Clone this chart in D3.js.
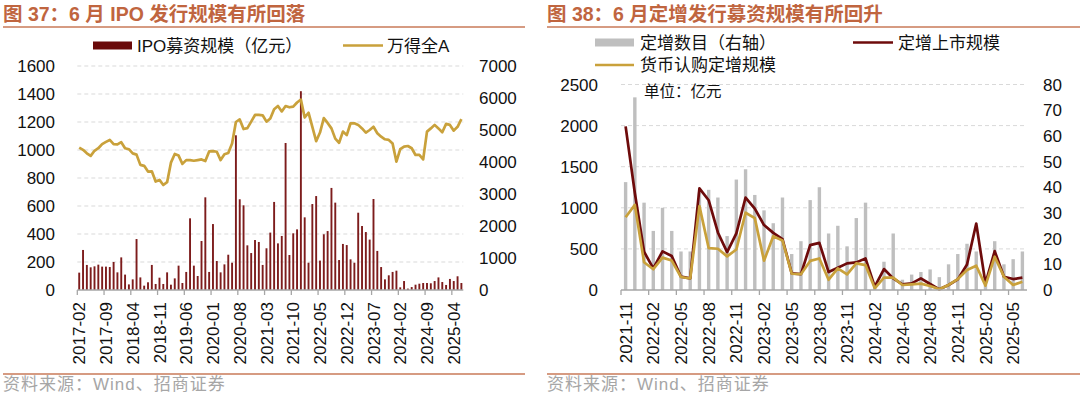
<!DOCTYPE html>
<html><head><meta charset="utf-8">
<script src="https://cdn.jsdelivr.net/npm/d3@7"></script>
<style>
body{margin:0;background:#fff;}
svg{display:block;}
text{font-family:"Liberation Sans",Arial,"Noto Sans CJK SC",sans-serif;}
</style></head>
<body><svg id="c" width="1080" height="394"></svg>
<script>
// ---------------- Data: chart 37 (IPO) ----------------
const ipoStart = "2017-02", ipoEnd = "2025-06";
const ipoTickLabels = ["2017-02","2017-09","2018-04","2018-11","2019-06","2020-01","2020-08","2021-03","2021-10","2022-05","2022-12","2023-07","2024-02","2024-09","2025-04"];
const ipoAmount = [124,286,179,162,169,181,167,167,164,200,126,233,110,40,76,364,90,31,55,179,
  43,88,43,126,38,83,174,50,129,512,174,100,350,662,129,471,207,126,183,252,
  195,1105,648,605,319,264,357,343,179,298,410,629,333,386,1050,250,405,433,1420,519,
  195,614,671,210,398,421,729,624,214,329,321,219,195,552,457,414,360,650,279,164,
  76,105,129,138,19,64,10,21,38,45,50,50,48,64,90,57,36,79,64,98,50];
const windA = [4450,4380,4270,4190,4350,4430,4560,4630,4690,4560,4550,4620,4430,4400,4270,4230,3910,3880,3700,3710,
  3390,3440,3280,3370,3980,4250,4200,3940,4060,4060,4040,4060,4080,4030,4330,4340,4320,4060,4240,4280,
  4580,5250,5330,5030,5060,5260,5470,5470,5460,5260,5360,5650,5750,5580,5750,5710,5730,5860,5950,5390,
  5540,5100,4650,4920,5370,5220,5050,4730,4600,4950,4840,5210,5210,5160,5050,4920,5000,5100,4900,4790,
  4710,4690,4580,4010,4400,4480,4500,4430,4220,4220,4080,4950,5050,5160,5050,4930,5190,5160,4980,5100,5340];
const ipoLeftTicks = [0,200,400,600,800,1000,1200,1400,1600];
const ipoRightTicks = [0,1000,2000,3000,4000,5000,6000,7000];

// ---------------- Data: chart 38 (定增) ----------------
const dzStart = "2021-11", dzEnd = "2025-06";
const dzTickLabels = ["2021-11","2022-02","2022-05","2022-08","2022-11","2023-02","2023-05","2023-08","2023-11","2024-02","2024-05","2024-08","2024-11","2025-02","2025-05"];
const dzCount = [42,75,34,23,32,23,15,15,38,39,36,21,43,47,37,31,26,36,14,19,35,40,
  22,25,17,28,34,2,11,22,4,6,7,8,5,10,14,18,15,2,19,10,12,15];
const dzListed = [1990,1180,465,263,470,413,162,142,1236,1092,700,460,688,1125,991,790,695,620,202,194,546,574,
  218,271,324,336,384,40,255,142,69,81,142,73,8,61,129,311,809,81,473,162,133,150];
const dzCash = [885,1035,338,253,394,358,158,140,1020,510,502,409,493,940,874,356,655,603,198,192,354,384,
  125,263,190,324,303,20,150,150,61,69,77,49,8,61,133,243,295,53,405,162,61,101];
const dzLeftTicks = [0,500,1000,1500,2000,2500];
const dzRightTicks = [0,10,20,30,40,50,60,70,80];

// ---------------- Helpers ----------------
const svg = d3.select("#c");
svg.append("rect").attr("width",1080).attr("height",394).attr("fill","#fff");
const fmt = d3.timeFormat("%Y-%m"), parse = d3.timeParse("%Y-%m");
function months(a,b){ return d3.timeMonth.range(parse(a), d3.timeMonth.offset(parse(b),1)).map(fmt); }

const TITLE_COL = "#c0653f", RULE_COL = "#c97a58", AX_COL = "#a6a6a6", GRID_COL = "#d9d9d9";
const GOLD = "#c9a13b";

function frame(x0, x1, title){
  svg.append("text").attr("x",x0+3).attr("y",21).attr("font-size",19.5).attr("font-weight","bold")
    .attr("fill",TITLE_COL).text(title);
  svg.append("line").attr("x1",x0+3).attr("x2",x1).attr("y1",27).attr("y2",27)
    .attr("stroke",RULE_COL).attr("stroke-width",1.6);
  svg.append("line").attr("x1",x0+3).attr("x2",x1).attr("y1",374).attr("y2",374)
    .attr("stroke",RULE_COL).attr("stroke-width",1.6);
  svg.append("text").attr("x",x0+3).attr("y",390).attr("font-size",17).attr("letter-spacing",1)
    .attr("fill","#a6a6a6").text("资料来源：Wind、招商证券");
}

function panel(o){
  const cats = months(o.start, o.end);
  const x = d3.scaleBand().domain(cats).range(o.xr).padding(0);
  const yL = d3.scaleLinear().domain(o.lDom).range(o.yr);
  const yR = d3.scaleLinear().domain(o.rDom).range(o.yr);
  const g = svg.append("g");
  g.selectAll(null).data(o.lTicks.filter(d=>d>0)).join("line")
    .attr("x1",o.xr[0]).attr("x2",o.xr[1]).attr("y1",d=>yL(d)).attr("y2",d=>yL(d))
    .attr("stroke",GRID_COL).attr("stroke-dasharray","4,3").attr("stroke-width",1);
  g.selectAll(null).data(o.lTicks).join("text")
    .attr("x",o.lLabX).attr("y",d=>yL(d)).attr("dy","0.36em").attr("text-anchor","end")
    .attr("font-size",17).attr("fill","#111").text(d=>d);
  g.selectAll(null).data(o.rTicks).join("text")
    .attr("x",o.rLabX).attr("y",d=>yR(d)).attr("dy","0.36em").attr("text-anchor","start")
    .attr("font-size",17).attr("fill","#111").text(d=>d);
  return {cats,x,yL,yR,g};
}

function xAxis(p, o){
  const {x,g} = p;
  const y0 = o.yr[0];
  g.append("line").attr("x1",o.xr[0]).attr("x2",o.xr[1]).attr("y1",y0).attr("y2",y0)
    .attr("stroke",AX_COL).attr("stroke-width",1.3);
  g.selectAll(null).data(o.tickLabels).join("line")
    .attr("x1",d=>x(d)).attr("x2",d=>x(d)).attr("y1",y0).attr("y2",y0+5)
    .attr("stroke",AX_COL).attr("stroke-width",1.3);
  g.selectAll(null).data(o.tickLabels).join("text")
    .attr("transform",d=>`translate(${x(d)+x.bandwidth()/2},302) rotate(-90)`)
    .attr("dy","0.36em").attr("text-anchor","end").attr("font-size",17).attr("fill","#111").text(d=>d);
}

// ---------------- Chart 37 ----------------
frame(0, 525, "图 37：6 月 IPO 发行规模有所回落");
const o1 = {start:ipoStart,end:ipoEnd,xr:[77.3,463.3],yr:[290,66],lDom:[0,1600],rDom:[0,7000],
  lTicks:ipoLeftTicks,rTicks:ipoRightTicks,lLabX:55,rLabX:479,tickLabels:ipoTickLabels};
const p1 = panel(o1);
p1.g.selectAll(null).data(ipoAmount).join("rect")
  .attr("x",(d,i)=>p1.x(p1.cats[i])+p1.x.bandwidth()/2-0.95).attr("width",1.9)
  .attr("y",d=>p1.yL(d)).attr("height",d=>p1.yL(0)-p1.yL(d)).attr("fill","#7d1c1c");
p1.g.append("path").datum(windA)
  .attr("d",d3.line().x((d,i)=>p1.x(p1.cats[i])+p1.x.bandwidth()/2).y(d=>p1.yR(d)))
  .attr("fill","none").attr("stroke",GOLD).attr("stroke-width",2.7).attr("stroke-linejoin","round");
xAxis(p1,o1);
svg.append("rect").attr("x",93).attr("y",41.5).attr("width",39).attr("height",8).attr("fill","#6a0a0a");
svg.append("text").attr("x",137).attr("y",45.5).attr("dy","0.36em").attr("font-size",17).attr("fill","#111").text("IPO募资规模（亿元）");
svg.append("line").attr("x1",343).attr("x2",383).attr("y1",45.5).attr("y2",45.5).attr("stroke",GOLD).attr("stroke-width",2.6);
svg.append("text").attr("x",387).attr("y",45.5).attr("dy","0.36em").attr("font-size",17).attr("fill","#111").text("万得全A");

// ---------------- Chart 38 ----------------
frame(544, 1080, "图 38：6 月定增发行募资规模有所回升");
const o2 = {start:dzStart,end:dzEnd,xr:[621,1027],yr:[290,84.5],lDom:[0,2500],rDom:[0,80],
  lTicks:dzLeftTicks,rTicks:dzRightTicks,lLabX:598,rLabX:1043,tickLabels:dzTickLabels};
const p2 = panel(o2);
p2.g.selectAll(null).data(dzCount).join("rect")
  .attr("x",(d,i)=>p2.x(p2.cats[i])+p2.x.bandwidth()/2-1.7).attr("width",3.4)
  .attr("y",d=>p2.yR(d)).attr("height",d=>p2.yR(0)-p2.yR(d)).attr("fill","#bfbfbf");
const ln2 = d3.line().x((d,i)=>p2.x(p2.cats[i])+p2.x.bandwidth()/2).y(d=>p2.yL(d));
p2.g.append("path").datum(dzListed).attr("d",ln2).attr("fill","none").attr("stroke","#6e0b0b")
  .attr("stroke-width",2.7).attr("stroke-linejoin","round");
p2.g.append("path").datum(dzCash).attr("d",ln2).attr("fill","none").attr("stroke",GOLD)
  .attr("stroke-width",2.7).attr("stroke-linejoin","round");
xAxis(p2,o2);
svg.append("rect").attr("x",595).attr("y",38.5).attr("width",39).attr("height",8).attr("fill","#bfbfbf");
svg.append("text").attr("x",640).attr("y",42.5).attr("dy","0.36em").attr("font-size",17).attr("fill","#111").text("定增数目（右轴）");
svg.append("line").attr("x1",853).attr("x2",893).attr("y1",42.5).attr("y2",42.5).attr("stroke","#6e0b0b").attr("stroke-width",2.6);
svg.append("text").attr("x",898).attr("y",42.5).attr("dy","0.36em").attr("font-size",17).attr("fill","#111").text("定增上市规模");
svg.append("line").attr("x1",595).attr("x2",634).attr("y1",65).attr("y2",65).attr("stroke",GOLD).attr("stroke-width",2.6);
svg.append("text").attr("x",640).attr("y",65).attr("dy","0.36em").attr("font-size",17).attr("fill","#111").text("货币认购定增规模");
svg.append("text").attr("x",644).attr("y",91).attr("dy","0.36em").attr("font-size",15.5).attr("fill","#111").text("单位：亿元");
</script></body></html>
